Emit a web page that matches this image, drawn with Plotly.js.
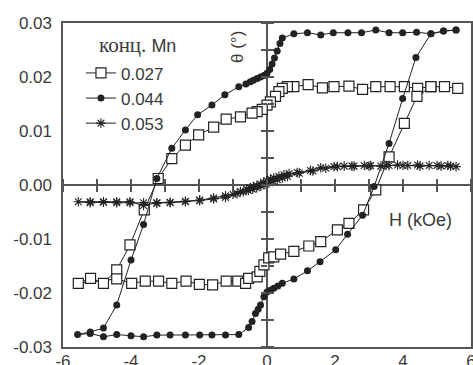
<!DOCTYPE html>
<html>
<head>
<meta charset="utf-8">
<script src="https://cdn.plot.ly/plotly-3.0.1.min.js"></script>
<style>
  html, body { margin: 0; padding: 0; background: #fff; }
  #chart { width: 473px; height: 365px; }
</style>
</head>
<body>
<div id="chart"></div>
<script>
// ---- Data (H in kOe, theta in degrees) ----
const seriesNames = ['0.027', '0.044', '0.053'];
const legendTitleA = 'конц.';
const legendTitleB = 'Mn';
const xTitle = 'H (kOe)';
const yTitle = 'θ (°)';

// 0.027 : descending branch then ascending branch
const h027Down = [5.61,5.22,4.82,4.43,4.04,3.62,3.20,2.81,2.41,1.97,1.63,1.21,0.79,0.60,0.45,0.35,0.25,0.10,0.00,-0.14,-0.29,-0.44,-0.78,-1.20,-1.57,-2.01,-2.40,-2.80,-3.20,-3.61,-4.03,-4.42,-4.81,-5.19,-5.55];
const t027Down = [0.0179,0.0182,0.0182,0.0179,0.0182,0.0182,0.0182,0.0177,0.0183,0.0182,0.0180,0.0186,0.0182,0.0182,0.0179,0.0173,0.0164,0.0154,0.0148,0.0140,0.0136,0.0133,0.0126,0.0122,0.0107,0.0093,0.0074,0.0049,0.0012,-0.0046,-0.0111,-0.0157,-0.0182,-0.0173,-0.0182];
const h027Up = [-4.42,-3.98,-3.58,-3.19,-2.80,-2.38,-1.99,-1.60,-1.20,-0.86,-0.63,-0.54,-0.29,-0.21,-0.09,0.05,0.20,0.40,0.79,1.23,1.58,2.07,2.41,2.84,3.20,3.59,4.04,4.41,4.82];
const t027Up = [-0.0174,-0.0182,-0.0178,-0.0178,-0.0182,-0.0178,-0.0184,-0.0185,-0.0178,-0.0178,-0.0182,-0.0173,-0.0170,-0.0160,-0.0148,-0.0135,-0.0133,-0.0128,-0.0123,-0.0113,-0.0105,-0.0083,-0.0071,-0.0046,-0.0009,0.0052,0.0114,0.0164,0.0182];

// 0.044
const h044Down = [5.56,5.19,4.82,4.40,3.99,3.59,3.20,2.78,2.38,1.95,1.58,1.19,0.79,0.45,0.38,0.30,0.22,0.15,0.08,0.00,-0.09,-0.19,-0.29,-0.40,-0.49,-0.62,-0.83,-1.24,-1.62,-2.04,-2.40,-2.80,-3.24,-3.63,-4.00,-4.42,-4.81,-5.20,-5.57];
const t044Down = [0.0287,0.0285,0.0280,0.0283,0.0282,0.0282,0.0287,0.0282,0.0282,0.0282,0.0278,0.0282,0.0280,0.0272,0.0262,0.0248,0.0235,0.0224,0.0214,0.0207,0.0203,0.0200,0.0197,0.0194,0.0191,0.0187,0.0182,0.0167,0.0148,0.0130,0.0102,0.0068,0.0012,-0.0073,-0.0139,-0.0222,-0.0265,-0.0272,-0.0277];
const h044Up = [-5.20,-4.81,-4.42,-4.00,-3.63,-3.24,-2.85,-2.40,-1.98,-1.62,-1.22,-0.83,-0.54,-0.44,-0.34,-0.26,-0.19,-0.09,0.00,0.10,0.20,0.32,0.45,0.79,1.19,1.56,2.02,2.37,2.81,3.15,3.59,3.99,4.38,4.82,5.19,5.56];
const t044Up = [-0.0275,-0.0281,-0.0277,-0.0279,-0.0281,-0.0278,-0.0278,-0.0278,-0.0278,-0.0278,-0.0278,-0.0277,-0.0264,-0.0253,-0.0238,-0.0230,-0.0222,-0.0207,-0.0198,-0.0195,-0.0191,-0.0187,-0.0182,-0.0174,-0.0159,-0.0142,-0.0120,-0.0091,-0.0056,-0.0003,0.0077,0.0160,0.0236,0.0280,0.0285,0.0287];

// 0.053
const h053Down = [5.56,5.32,5.12,4.77,4.43,4.14,3.84,3.59,3.35,3.05,2.86,2.56,2.27,1.97,1.58,1.28,0.89,0.65,0.50,0.35,0.20,0.10,0.00,-0.10,-0.19,-0.30,-0.40,-0.49,-0.60,-0.78,-1.00,-1.22,-1.57,-1.98,-2.40,-2.85,-3.24,-3.63,-4.03,-4.42,-4.81,-5.20,-5.55];
const t053Down = [0.0034,0.0036,0.0035,0.0036,0.0037,0.0036,0.0037,0.0036,0.0035,0.0036,0.0036,0.0035,0.0035,0.0034,0.0032,0.0027,0.0023,0.0021,0.0019,0.0016,0.0013,0.0011,0.0008,0.0005,0.0002,-0.0001,-0.0003,-0.0005,-0.0008,-0.0012,-0.0017,-0.0020,-0.0024,-0.0028,-0.0030,-0.0032,-0.0033,-0.0038,-0.0031,-0.0031,-0.0031,-0.0031,-0.0031];
const h053Up = [-5.20,-4.81,-4.42,-4.03,-3.63,-3.24,-2.85,-2.40,-1.98,-1.57,-1.22,-0.88,-0.70,-0.55,-0.42,-0.30,-0.18,-0.06,0.06,0.18,0.30,0.45,0.60,0.95,1.35,1.73,2.07,2.50,3.00,3.50,4.00,4.50,5.00,5.40];
const t053Up = [-0.0033,-0.0032,-0.0033,-0.0033,-0.0033,-0.0034,-0.0033,-0.0031,-0.0029,-0.0026,-0.0023,-0.0016,-0.0013,-0.0010,-0.0008,-0.0005,-0.0002,0.0001,0.0004,0.0007,0.0010,0.0013,0.0016,0.0022,0.0026,0.0031,0.0034,0.0035,0.0035,0.0036,0.0036,0.0035,0.0036,0.0035];

// Tick labels
const xTickVals = [-6,-4,-2,0,2,4,6];
const xTickText = ['-6','-4','-2','0','2','4','6'];
const yTickVals = [-0.03,-0.02,-0.01,0,0.01,0.02,0.03];
const yTickText = ['-0.03','-0.02','-0.01','0.00','0.01','0.02','0.03'];

// ---- Styling ----
const INK = '#222';
const AXC = '#555';
const TXT = '#3a3a3a';
const SANS = 'Arial, "Liberation Sans", Helvetica, sans-serif';
const XR = [-6, 6];
const YR = [-0.03, 0.03];

const traces = [
  {
    name: seriesNames[0],
    x: h027Down.concat(h027Up), y: t027Down.concat(t027Up),
    xaxis: 'x', yaxis: 'y',
    mode: 'lines+markers', type: 'scatter',
    line: {color: INK, width: 1},
    marker: {symbol: 'square', size: 10, color: '#fff', line: {color: INK, width: 1.2}}
  },
  {
    name: seriesNames[1],
    x: h044Down.concat(h044Up), y: t044Down.concat(t044Up),
    xaxis: 'x2', yaxis: 'y2',
    mode: 'lines+markers', type: 'scatter',
    line: {color: INK, width: 1},
    marker: {symbol: 'circle', size: 7, color: INK, line: {width: 0}}
  },
  {
    name: seriesNames[2],
    x: h053Down.concat(h053Up), y: t053Down.concat(t053Up),
    xaxis: 'x3', yaxis: 'y3',
    mode: 'lines+markers', type: 'scatter',
    line: {color: INK, width: 1},
    marker: {symbol: 'asterisk-open', size: 8, color: INK, line: {color: INK, width: 1.1}}
  }
];

// Axes used to draw the crossing tick marks on the zero lines
function zeroAxis(letter, over, side, dtick) {
  return {
    overlaying: over, anchor: 'free', position: 0.5, side: side,
    range: letter === 'x' ? XR : YR, autorange: false, fixedrange: true,
    showgrid: false, zeroline: false, showline: false, showticklabels: false,
    ticks: 'outside', tickmode: 'linear', tick0: 0, dtick: dtick,
    ticklen: 6, tickwidth: 1.4, tickcolor: AXC
  };
}

const layout = {
  width: 473, height: 365,
  margin: {l: 63, r: 2, t: 23, b: 18, pad: 0},
  paper_bgcolor: '#fff', plot_bgcolor: '#fff',
  showlegend: true,
  font: {family: SANS, size: 17, color: TXT},
  xaxis: {
    range: XR, autorange: false, showgrid: false,
    zeroline: true, zerolinecolor: AXC, zerolinewidth: 1.4,
    showline: true, mirror: true, linecolor: AXC, linewidth: 1.6,
    ticks: '', tickmode: 'array', tickvals: xTickVals, ticktext: xTickText,
    tickfont: {family: SANS, size: 17, color: TXT}, ticklabelstandoff: -2,
    ticklabeloverflow: 'allow'
  },
  yaxis: {
    range: YR, autorange: false, showgrid: false,
    zeroline: true, zerolinecolor: AXC, zerolinewidth: 1.4,
    showline: true, mirror: true, linecolor: AXC, linewidth: 1.6,
    ticks: '', tickmode: 'array', tickvals: yTickVals, ticktext: yTickText,
    tickfont: {family: SANS, size: 17, color: TXT}, ticklabelstandoff: 6,
    ticklabeloverflow: 'allow'
  },
  xaxis2: zeroAxis('x', 'x', 'bottom', 1),
  xaxis3: zeroAxis('x', 'x', 'top', 1),
  yaxis2: zeroAxis('y', 'y', 'left', 0.005),
  yaxis3: zeroAxis('y', 'y', 'right', 0.005),
  legend: {
    x: 0.044, y: 0.90, xanchor: 'left', yanchor: 'top',
    bgcolor: 'rgba(0,0,0,0)', borderwidth: 0,
    font: {family: SANS, size: 17, color: TXT},
    tracegroupgap: 0, itemwidth: 30
  },
  annotations: [
    {text: '<span style="font-family:\'Liberation Serif\', \'Times New Roman\', serif; font-size:21px">' + legendTitleA + '</span> ' + legendTitleB,
     xref: 'paper', yref: 'paper', x: 0.083, y: 0.932, xanchor: 'left', yanchor: 'middle',
     showarrow: false, font: {family: SANS, size: 18, color: TXT}},
    {text: yTitle, xref: 'paper', yref: 'paper', x: 0.429, y: 0.926, xanchor: 'center', yanchor: 'middle',
     textangle: -90, showarrow: false, font: {family: SANS, size: 17, color: TXT}},
    {text: xTitle, xref: 'paper', yref: 'paper', x: 0.875, y: 0.392, xanchor: 'center', yanchor: 'middle',
     showarrow: false, font: {family: SANS, size: 18, color: TXT}}
  ]
};

Plotly.newPlot('chart', traces, layout, {staticPlot: true, displayModeBar: false});
</script>
</body>
</html>
